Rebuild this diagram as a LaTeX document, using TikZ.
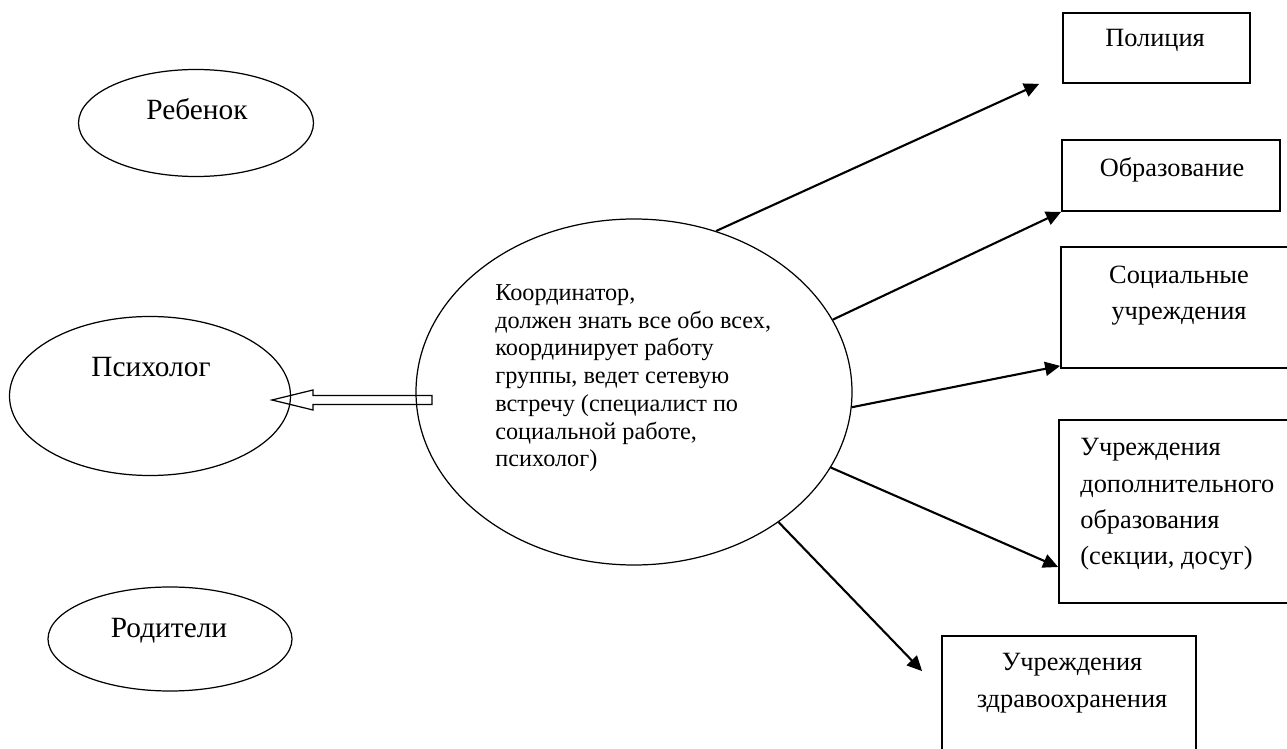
\documentclass[tikz,border=0pt]{standalone}
\usepackage{fontspec}
\setmainfont{Liberation Serif}
\usetikzlibrary{arrows.meta, shapes.geometric, positioning}

\begin{document}
\begin{tikzpicture}[x=0.2mm, y=-0.2mm]
\tikzset{member/.style = {shape=ellipse, draw, line width=0.7pt, inner sep=0pt}}
\tikzset{agency/.style = {shape=rectangle, draw, line width=1pt, inner sep=0pt}}
\tikzset{lbl/.style = {inner sep=0pt, font=\fontsize{16.7}{19}\selectfont}}
\tikzset{boxlbl/.style = {inner sep=0pt, font=\fontsize{15}{20.7}\selectfont}}
\tikzset{edge/.style = {-{Triangle[length=3mm,width=2.8mm]}, line width=1.2pt}}
\useasboundingbox (0,0) rectangle (1287,749);
% family and specialists
\node[member, minimum width=4.7cm, minimum height=2.14cm] (child) at (196,123) {};
\node[member, minimum width=5.62cm, minimum height=3.18cm] (psych) at (150,396) {};
\node[member, minimum width=4.88cm, minimum height=2.08cm] (parents) at (170,639) {};
\node[member, minimum width=8.72cm, minimum height=6.92cm] (coord) at (634,392) {};
\node[lbl, anchor=base] (childlbl) at (197,120) {Ребенок};
\node[lbl, anchor=base] (psychlbl) at (151,377) {Психолог};
\node[lbl, anchor=base] (parentslbl) at (169,637) {Родители};
\node[anchor=base west, align=left, inner sep=0pt, font=\fontsize{13.8}{15.8}\selectfont] (coordlbl) at (495,467)
  {Координатор,\\должен знать все обо всех,\\координирует работу\\группы, ведет сетевую\\встречу (специалист по\\социальной работе,\\психолог)};
% agencies
\node[agency, minimum width=3.74cm, minimum height=1.4cm] (police) at (1156.5,48) {};
\node[agency, minimum width=4.36cm, minimum height=1.42cm] (educ) at (1171,175.5) {};
\node[agency, minimum width=4.78cm, minimum height=2.42cm] (soc) at (1180.5,307.5) {};
\node[agency, minimum width=4.82cm, minimum height=3.66cm] (extra) at (1179.5,511.5) {};
\node[agency, minimum width=5.08cm, minimum height=2.6cm] (health) at (1069,701) {};
\node[boxlbl, anchor=base] (policelbl) at (1155,47) {Полиция};
\node[boxlbl, anchor=base] (educlbl) at (1172,177) {Образование};
\node[boxlbl, anchor=base, align=center] (soclbl) at (1179,320) {Социальные\\учреждения};
\node[boxlbl, anchor=base west, align=left] (extralbl) at (1080,565) {Учреждения\\дополнительного\\образования\\(секции, досуг)};
\node[boxlbl, anchor=base, align=center] (healthlbl) at (1072,707) {Учреждения\\здравоохранения};

\draw [edge] (coord.63.4) to ([xshift=-4.6mm]police.south west);
\draw [edge] (coord.20.4) to (educ.south west);
\draw [edge] (coord.-4.5) to ([yshift=0.06cm]soc.south west);
\draw [edge] (coord.-21.6) to ([yshift=-1.11cm]extra.west);
\draw [edge] (coord.-42.7) to ([shift={(-0.38cm,-0.72cm)}]health.north west);

% hollow arrow to the psychologist
\coordinate (hollowtail) at (432,400);
\draw[line width=0.7pt] (hollowtail) ++(0,-4.5) -- ++(-119,0) -- ++(0,-5.5) -- ++(-41,10)
  -- ++(41,10) -- ++(0,-5.5) -- ++(119,0) -- cycle;
\end{tikzpicture}
\end{document}
